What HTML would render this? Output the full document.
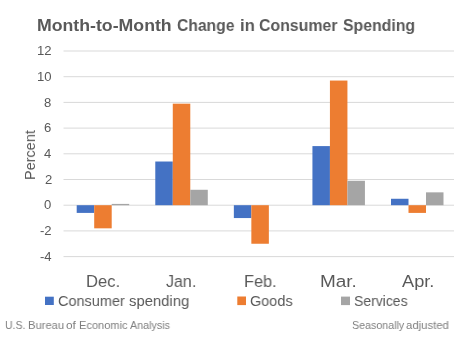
<!DOCTYPE html>
<html><head><meta charset="utf-8">
<style>
html,body{margin:0;padding:0;background:#fff;}
body{width:454px;height:340px;position:relative;overflow:hidden;font-family:"Liberation Sans",sans-serif;}
.t{position:absolute;white-space:nowrap;line-height:1;transform-origin:0 0;color:#595959;will-change:transform;}
svg{position:absolute;left:0;top:0;}
</style></head><body>
<svg width="454" height="340" viewBox="0 0 454 340">
<g fill="#D9D9D9">
<rect x="63.5" y="256.10" width="392" height="1"/>
<rect x="63.5" y="230.40" width="392" height="1"/>
<rect x="63.5" y="204.70" width="392" height="1"/>
<rect x="63.5" y="179.00" width="392" height="1"/>
<rect x="63.5" y="153.30" width="392" height="1"/>
<rect x="63.5" y="127.60" width="392" height="1"/>
<rect x="63.5" y="101.90" width="392" height="1"/>
<rect x="63.5" y="76.20" width="392" height="1"/>
<rect x="63.5" y="50.50" width="392" height="1"/>
</g>
<rect x="76.70" y="205.20" width="17.50" height="7.71" fill="#4472C4"/>
<rect x="94.20" y="205.20" width="17.50" height="23.13" fill="#ED7D31"/>
<rect x="111.70" y="203.91" width="17.50" height="1.29" fill="#A5A5A5"/>
<rect x="155.28" y="161.51" width="17.50" height="43.69" fill="#4472C4"/>
<rect x="172.78" y="103.68" width="17.50" height="101.52" fill="#ED7D31"/>
<rect x="190.28" y="189.78" width="17.50" height="15.42" fill="#A5A5A5"/>
<rect x="233.85" y="205.20" width="17.50" height="12.85" fill="#4472C4"/>
<rect x="251.35" y="205.20" width="17.50" height="38.55" fill="#ED7D31"/>
<rect x="312.43" y="146.09" width="17.50" height="59.11" fill="#4472C4"/>
<rect x="329.93" y="80.56" width="17.50" height="124.64" fill="#ED7D31"/>
<rect x="347.43" y="180.78" width="17.50" height="24.41" fill="#A5A5A5"/>
<rect x="391.00" y="198.77" width="17.50" height="6.42" fill="#4472C4"/>
<rect x="408.50" y="205.20" width="17.50" height="7.71" fill="#ED7D31"/>
<rect x="426.00" y="192.35" width="17.50" height="12.85" fill="#A5A5A5"/>
<rect x="45" y="296.7" width="8.8" height="8.3" fill="#4472C4"/>
<rect x="237.3" y="296.5" width="8.7" height="8.6" fill="#ED7D31"/>
<rect x="341" y="296.6" width="9" height="8.5" fill="#A5A5A5"/>
</svg>
<div class="t" style="left:37.20px;top:16.80px;font-size:17.0px;transform:scaleX(1.0413);font-weight:bold;">Month-to-Month</div>
<div class="t" style="left:177.37px;top:16.80px;font-size:17.0px;transform:scaleX(0.9211);font-weight:bold;">Change</div>
<div class="t" style="left:239.67px;top:16.80px;font-size:17.0px;transform:scaleX(0.9804);font-weight:bold;">in</div>
<div class="t" style="left:259.10px;top:16.80px;font-size:17.0px;transform:scaleX(0.9325);font-weight:bold;">Consumer</div>
<div class="t" style="left:342.83px;top:16.80px;font-size:17.0px;transform:scaleX(0.9307);font-weight:bold;">Spending</div>
<div class="t" style="left:86.26px;top:273.70px;font-size:16.7px;transform:scaleX(0.9937);">Dec.</div>
<div class="t" style="left:166.16px;top:273.70px;font-size:16.7px;transform:scaleX(0.9613);">Jan.</div>
<div class="t" style="left:243.88px;top:273.70px;font-size:16.7px;transform:scaleX(0.9770);">Feb.</div>
<div class="t" style="left:320.18px;top:273.70px;font-size:16.7px;transform:scaleX(1.1361);">Mar.</div>
<div class="t" style="left:401.60px;top:273.70px;font-size:16.7px;transform:scaleX(1.0903);">Apr.</div>
<div class="t" style="left:58.07px;top:293.85px;font-size:14.9px;transform:scaleX(0.9727);">Consumer</div>
<div class="t" style="left:129.30px;top:293.85px;font-size:14.9px;transform:scaleX(0.9949);">spending</div>
<div class="t" style="left:250.17px;top:293.85px;font-size:14.9px;transform:scaleX(0.9694);">Goods</div>
<div class="t" style="left:353.80px;top:293.85px;font-size:14.9px;transform:scaleX(0.9381);">Services</div>
<div class="t" style="left:5.09px;top:320.00px;font-size:11.5px;transform:scaleX(0.9136);color:#7F7F7F;">U.S.</div>
<div class="t" style="left:28.03px;top:320.00px;font-size:11.5px;transform:scaleX(0.9730);color:#7F7F7F;">Bureau</div>
<div class="t" style="left:66.48px;top:320.00px;font-size:11.5px;transform:scaleX(1.0333);color:#7F7F7F;">of</div>
<div class="t" style="left:78.84px;top:320.00px;font-size:11.5px;transform:scaleX(0.9624);color:#7F7F7F;">Economic</div>
<div class="t" style="left:129.80px;top:320.00px;font-size:11.5px;transform:scaleX(0.9341);color:#7F7F7F;">Analysis</div>
<div class="t" style="left:352.39px;top:320.00px;font-size:11.5px;transform:scaleX(0.9283);color:#7F7F7F;">Seasonally</div>
<div class="t" style="left:406.36px;top:320.00px;font-size:11.5px;transform:scaleX(0.9858);color:#7F7F7F;">adjusted</div>
<div class="t" style="left:39.75px;top:249.80px;font-size:13.1px;">-4</div>
<div class="t" style="left:40.00px;top:224.10px;font-size:13.1px;">-2</div>
<div class="t" style="left:44.25px;top:198.40px;font-size:13.1px;">0</div>
<div class="t" style="left:44.50px;top:172.70px;font-size:13.1px;">2</div>
<div class="t" style="left:44.00px;top:147.00px;font-size:13.1px;">4</div>
<div class="t" style="left:44.25px;top:121.30px;font-size:13.1px;">6</div>
<div class="t" style="left:44.25px;top:95.60px;font-size:13.1px;">8</div>
<div class="t" style="left:37.00px;top:69.90px;font-size:13.1px;">10</div>
<div class="t" style="left:37.00px;top:44.20px;font-size:13.1px;">12</div>
<div class="t" style="left:22.60px;top:179.84px;font-size:14.5px;transform:rotate(-90deg) scaleX(0.9959);">Percent</div>
</body></html>
